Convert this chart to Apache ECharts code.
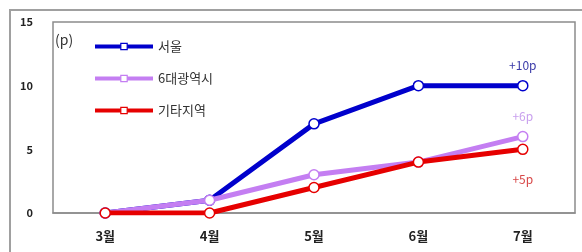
<!DOCTYPE html>
<html><head><meta charset="utf-8">
<script src="https://cdn.jsdelivr.net/npm/echarts@6/dist/echarts.min.js"></script>
<style>html,body{margin:0;padding:0;background:#fff}#c{width:582px;height:252px}</style>
</head><body><div id="c"></div>
<script>
const categories = ['3월','4월','5월','6월','7월'];
const seriesNames = ['서울','6대광역시','기타지역'];
const seoul = [0, 1, 7, 10, 10];
const metro = [0, 1, 3, 4, 6];
const others = [0, 0, 2, 4, 5];
const endLabels = ['+10p','+6p','+5p'];
const yTicks = [0, 5, 10, 15];

const font = '"Noto Sans CJK KR", "Noto Sans", sans-serif';
const colors = ['#0000cc', '#c47ef2', '#e60000'];
const labelColors = ['#3a3aa8', '#c9a0ee', '#d84848'];
const dataSets = [seoul, metro, others];

function mkSeries(i) {
  const d = dataSets[i];
  return {
    name: seriesNames[i],
    type: 'line',
    data: d.map((v, k) => {
      const item = { value: v, symbol: 'circle', symbolSize: 10 };
      if (k === d.length - 1) {
        item.label = {
          show: true,
          formatter: endLabels[i],
          position: i === 2 ? 'bottom' : 'top',
          distance: i === 2 ? 18 : 8,
          color: labelColors[i],
          fontSize: 12,
          fontFamily: font
        };
      }
      return item;
    }),
    symbol: 'rect',
    symbolSize: 10,
    lineStyle: { color: colors[i], width: 5 },
    itemStyle: { color: '#fff', borderColor: colors[i], borderWidth: 1.5 },
    emphasis: { disabled: true },
    z: 2 + i
  };
}

const chart = echarts.init(document.getElementById('c'), null, { renderer: 'canvas' });
chart.setOption({
  animation: false,
  backgroundColor: '#fff',
  graphic: [
    { type: 'rect', shape: { x: 10, y: 10, width: 700, height: 400 }, style: { fill: 'none', stroke: '#a0a0a0', lineWidth: 2 }, silent: true, z: -1 },
    { type: 'text', left: 55, top: 33, style: { text: '(p)', font: '14px ' + font, fill: '#333' } }
  ],
  grid: { left: 53, right: 7, top: 22, bottom: 39, show: true, borderColor: '#8c8c8c', borderWidth: 1.5, backgroundColor: 'transparent' },
  legend: {
    orient: 'vertical', left: 88, top: 35,
    itemWidth: 58, itemHeight: 8, itemGap: 19,
    lineStyle: { width: 4 },
    data: seriesNames.map((n, i) => ({ name: n, itemStyle: { color: '#fff', borderColor: colors[i], borderWidth: 1.2 } })),
    textStyle: { fontFamily: font, fontSize: 13, color: '#333' },
    selectedMode: false
  },
  xAxis: {
    type: 'category', data: categories, boundaryGap: true,
    axisLine: { show: true, lineStyle: { color: '#8c8c8c', width: 1.5 } },
    axisTick: { show: false },
    axisLabel: { fontFamily: font, fontSize: 13, fontWeight: 'bold', color: '#222', margin: 17 }
  },
  yAxis: {
    type: 'value', min: 0, max: 15, interval: 5,
    axisLine: { show: false }, axisTick: { show: false }, splitLine: { show: false },
    axisLabel: { fontFamily: font, fontSize: 11, fontWeight: 'bold', color: '#222', margin: 20,
      formatter: v => yTicks.includes(v) ? String(v) : '' }
  },
  series: [mkSeries(0), mkSeries(1), mkSeries(2)]
});
</script></body></html>
